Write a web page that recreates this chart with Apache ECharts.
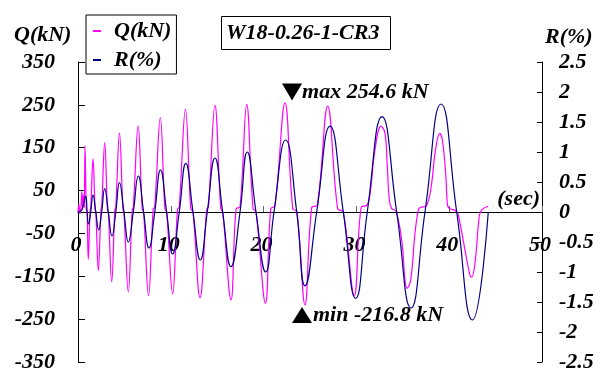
<!DOCTYPE html>
<html>
<head>
<meta charset="utf-8">
<script src="https://cdn.jsdelivr.net/npm/echarts@6/dist/echarts.min.js"></script>
<style>
  html, body { margin: 0; padding: 0; background: #fff; }
  #chart { width: 607px; height: 374px; }
</style>
</head>
<body>
<div id="chart"></div>
<script>
// Series names (also used by the legend and the axis titles)
const seriesNames = ['Q(kN)', 'R(%)'];
const specimenLabel = 'W18-0.26-1-CR3';
const timeUnit = '(sec)';

// Axis ranges: [min, max, interval]
const timeRange = [0, 50, 10];
const loadRange = [-350, 350, 100];
const driftRange = [-2.5, 2.5, 0.5];

// Shear force Q (kN) against time (s)
const loadQ = [
  [0, 0], [0.1, 18], [0.2, -4], [0.32, 12], [0.42, 48], [0.5, 6], [0.6, 40], [0.68, 10], [0.75, 155],
  [0.9, 6], [0.98, 0], [1.11, -110], [1.3, 4], [1.37, 9], [1.62, 124],
  [1.84, 6], [1.92, 0], [2.19, -137], [2.47, 5], [2.55, 10], [2.88, 162],
  [3.17, 6], [3.27, 0], [3.63, -163], [3.97, 5], [4.07, 10], [4.47, 184],
  [4.84, 7], [4.95, 0], [5.42, -187], [5.84, 5], [5.96, 11], [6.48, 201],
  [6.92, 7], [7.07, 0], [7.6, -195], [8.1, 6], [8.27, 12], [8.87, 220],
  [9.36, 8], [9.55, 0], [10.2, -191], [10.72, 6], [10.91, 12], [11.58, 240],
  [12.15, 8], [12.39, 0], [13.15, -200], [13.87, 6], [14.06, 12], [14.76, 249],
  [15.38, 8], [15.59, 0], [16.49, -205], [17.03, 7], [17.46, 12], [18.18, 251],
  [18.86, 8], [19.18, 0], [20.2, -213], [20.77, 8], [21.22, 14], [22.31, 254.6],
  [23.14, 8], [23.6, 0], [24.46, -216.8], [25.18, 10], [25.79, 16], [26.91, 247],
  [27.98, 8], [28.59, 0], [29.77, -195], [30.5, 10], [31.14, 16], [31.47, 42], [32.0, 145], [32.65, 200.6],
  [33.08, 184], [33.33, 106], [33.55, 28], [33.8, 8], [34.27, 2], [34.88, -65], [35.24, -159], [35.45, -178],
  [35.85, -159], [36.31, -50], [36.67, 5], [36.85, 10], [37.58, 16], [38.11, 67], [38.47, 137], [38.98, 183.6],
  [39.26, 168], [39.62, 91], [39.79, 21], [39.97, 9], [40.81, 1], [41.16, -26], [41.7, -89], [42.24, -148], [42.42, -152],
  [42.78, -119], [43.24, -10], [43.5, 5], [44.21, 14]
];

// Drift angle R (%) against time (s)
const driftR = [
  [0, 0], [0.4, 0.03], [0.83, 0.26], [0.98, 0], [1.13, -0.2], [1.37, 0], [1.62, 0.28], [1.92, 0],
  [2.23, -0.3], [2.55, 0], [2.88, 0.39], [3.27, 0], [3.66, -0.4], [4.07, 0], [4.47, 0.49], [4.95, 0],
  [5.42, -0.5], [5.96, 0], [6.5, 0.6], [7.07, 0], [7.65, -0.6], [8.27, 0], [8.89, 0.7], [9.55, 0],
  [10.2, -0.7], [10.91, 0], [11.62, 0.81], [12.39, 0], [13.18, -0.8], [13.93, 0], [14.76, 0.9], [15.59, 0],
  [16.49, -0.91], [17.46, 0], [18.24, 1.0], [19.18, 0], [20.23, -1.0], [21.12, 0], [22.38, 1.2], [23.57, 0],
  [24.46, -1.23], [25.72, 0], [27.16, 1.43], [28.59, 0], [29.92, -1.44], [31.17, 0], [32.76, 1.59], [34.34, 0],
  [35.88, -1.6], [37.39, 0], [39.12, 1.8], [40.81, 0], [42.51, -1.8], [44.21, 0]
];

const FONT_FAMILY = '"Liberation Serif", "Times New Roman", serif';
const txt = { fontFamily: FONT_FAMILY, fontSize: 22, fontWeight: 'bold', fontStyle: 'italic', color: '#000' };
const FONT = 'italic bold 22px ' + FONT_FAMILY;

const chart = echarts.init(document.getElementById('chart'), null, { renderer: 'canvas' });

chart.setOption({
  animation: false,
  backgroundColor: '#fff',
  grid: { left: 78, right: 65, top: 62, bottom: 12, containLabel: false, outerBoundsMode: 'none' },
  title: {
    text: specimenLabel,
    left: 221, top: 16,
    padding: [6, 11, 6, 5],
    borderColor: '#000', borderWidth: 1,
    backgroundColor: '#fff',
    textStyle: Object.assign({}, txt, { lineHeight: 22 })
  },
  legend: {
    orient: 'vertical',
    left: 86, top: 15,
    backgroundColor: '#fff',
    borderColor: '#000', borderWidth: 1,
    padding: [5, 5, 3, 7],
    itemGap: 7,
    itemWidth: 8, itemHeight: 2,
    icon: 'rect',
    textStyle: Object.assign({}, txt, { padding: [0, 0, 0, 8] }),
    data: seriesNames
  },
  xAxis: {
    type: 'value',
    min: timeRange[0], max: timeRange[1], interval: timeRange[2],
    position: 'bottom',
    offset: -150,
    axisLine: { onZero: false, lineStyle: { color: '#000', width: 1 } },
    axisTick: { inside: true, length: 6, lineStyle: { color: '#666' } },
    axisLabel: Object.assign({}, txt, { margin: 22, padding: [0, 4, 0, 0] }),
    splitLine: { show: false },
    name: timeUnit,
    nameLocation: 'end',
    nameGap: -2,
    nameTextStyle: Object.assign({}, txt, { align: 'right', verticalAlign: 'bottom', padding: [0, 0, 2, 0] })
  },
  yAxis: [
    {
      type: 'value', position: 'left',
      min: loadRange[0], max: loadRange[1], interval: loadRange[2],
      axisLine: { show: true, onZero: false, lineStyle: { color: '#000', width: 1 } },
      axisTick: { show: true, inside: true, length: 7, lineStyle: { color: '#000' } },
      axisLabel: Object.assign({}, txt, { margin: 23 }),
      splitLine: { show: false }
    },
    {
      type: 'value', position: 'right',
      min: driftRange[0], max: driftRange[1], interval: driftRange[2],
      axisLine: { show: true, onZero: false, lineStyle: { color: '#000', width: 1 } },
      axisTick: { show: true, inside: true, length: 5, lineStyle: { color: '#000' } },
      axisLabel: Object.assign({}, txt, { margin: 17 }),
      splitLine: { show: false }
    }
  ],
  series: [
    {
      name: seriesNames[0],
      type: 'line',
      yAxisIndex: 0,
      data: loadQ,
      symbol: 'none',
      smooth: 0.4,
      lineStyle: { color: '#ff00ff', width: 1.2 },
      itemStyle: { color: '#ff00ff' },
      markPoint: {
        silent: true,
        data: [
          {
            type: 'max',
            symbol: 'path://M0,0 L20,0 L10,17 Z',
            symbolSize: [20, 17],
            symbolOffset: [7, -11],
            itemStyle: { color: '#000' },
            label: Object.assign({}, txt, {
              show: true, position: 'right', distance: 0,
              formatter: p => 'max ' + p.value.toFixed(1) + ' kN'
            })
          },
          {
            type: 'min',
            symbol: 'triangle',
            symbolSize: [20, 16],
            symbolOffset: [-3, 10],
            itemStyle: { color: '#000' },
            label: Object.assign({}, txt, {
              show: true, position: 'right', distance: 1,
              formatter: p => 'min ' + p.value.toFixed(1) + ' kN'
            })
          }
        ]
      }
    },
    {
      name: seriesNames[1],
      type: 'line',
      yAxisIndex: 1,
      data: driftR,
      symbol: 'none',
      smooth: 0.5,
      lineStyle: { color: '#000080', width: 1.2 },
      itemStyle: { color: '#000080' }
    }
  ],
  graphic: [
    {
      type: 'text', x: 14, y: 35,
      style: { text: seriesNames[0], font: FONT, fill: '#000', textAlign: 'left', textVerticalAlign: 'middle' }
    },
    {
      type: 'text', x: 545, y: 37,
      style: { text: seriesNames[1], font: FONT, fill: '#000', textAlign: 'left', textVerticalAlign: 'middle' }
    }
  ]
});
</script>
</body>
</html>
